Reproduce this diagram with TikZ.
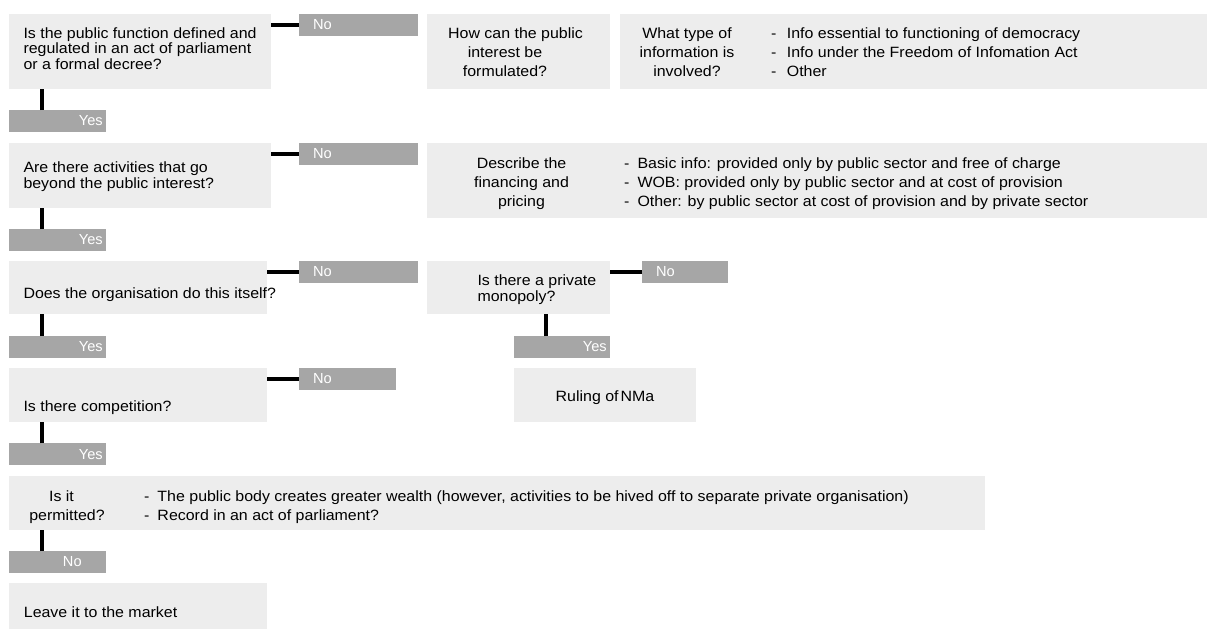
\documentclass[tikz,border=0pt]{standalone}
\usepackage{fontspec}
\setmainfont{Liberation Sans}
\newfontfamily\wfont{Liberation Sans}[FakeStretch=1.07]
\definecolor{boxgray}{RGB}{237,237,237}
\definecolor{taggray}{RGB}{166,166,166}
\tikzset{
  qbox/.style={fill=boxgray, draw=none, inner sep=0pt, outer sep=0pt, anchor=north west},
  tagbox/.style={fill=taggray, draw=none, inner sep=0pt, outer sep=0pt, anchor=north west,
    minimum height=21.7pt, text=white, font=\fontsize{14.6}{16}\selectfont},
  notag/.style={tagbox, text width=#1, align=left},
  yestag/.style={tagbox, text width=#1, align=right},
  qtxt/.style={font=\wfont\fontsize{14.9}{15.8}\selectfont, align=left, inner sep=0pt, anchor=base west},
  ctxt/.style={font=\wfont\fontsize{14.9}{19.2}\selectfont, align=center, inner sep=0pt, anchor=base},
  btxt/.style={font=\wfont\fontsize{14.9}{19.2}\selectfont, align=left, inner sep=0pt, anchor=base west},
  conn/.style={line width=3.8pt},
}
\begin{document}
\begin{tikzpicture}[x=1pt,y=-1pt]
\useasboundingbox (0,0) rectangle (1207,630);

% ---- row 1 (text nodes anchored at the baseline of their last line)
\node[qbox, minimum width=262pt, minimum height=75pt] (q1) at (9,14) {};
\node[qtxt, font=\wfont\fontsize{14.9}{15.5}\selectfont] (q1t) at (23.3,69) {Is the public function defined and\\regulated in an act of parliament\\or a formal decree?};
\node[notag=119pt] (no1) at (299,14) {\hspace*{14pt}No};
\node[yestag=97pt] (yes1) at (9,110) {Yes\hspace*{3.3pt}};
\node[qbox, minimum width=183pt, minimum height=75pt] (q2) at (427,14) {};
\node[ctxt] (q2t) at (505,76.5) {\hspace*{21pt}How can the public\\interest be\\formulated?};
\node[qbox, minimum width=587pt, minimum height=75pt] (q3) at (620,14) {};
\node[ctxt] (q3t) at (687,76.5) {What type of\\information is\\involved?};
\node[btxt] (q3b) at (771,76.5) {\makebox[15.7pt][l]{-}Info essential to functioning of democracy\\
  \makebox[15.7pt][l]{-}Info under the Freedom of Infomation Act\\
  \makebox[15.7pt][l]{-}Other};

% ---- row 2
\node[qbox, minimum width=262pt, minimum height=65pt] (r2) at (9,143) {};
\node[qtxt, font=\wfont\fontsize{14.9}{16}\selectfont] (r2t) at (23.3,188.5) {Are there activities that go\\beyond the public interest?};
\node[notag=119pt] (no2) at (299,143) {\hspace*{14pt}No};
\node[yestag=97pt] (yes2) at (9,229) {Yes\hspace*{3.3pt}};
\node[qbox, minimum width=780pt, minimum height=74.5pt] (desc) at (427,143) {};
\node[ctxt] (desct) at (521.5,206.4) {Describe the\\financing and\\pricing};
\node[btxt] (descb) at (624,206.4) {\makebox[13.3pt][l]{-}Basic info: provided only by public sector and free of charge\\
  \makebox[13.3pt][l]{-}WOB: provided only by public sector and at cost of provision\\
  \makebox[13.3pt][l]{-}Other: by public sector at cost of provision and by private sector};

% ---- row 3
\node[qbox, minimum width=258pt, minimum height=53.3pt] (r3) at (9,261) {};
\node[qtxt] (r3t) at (23.3,298) {Does the organisation do this itself?};
\node[notag=119pt] (no3) at (299,261) {\hspace*{14pt}No};
\node[yestag=97pt] (yes3) at (9,336) {Yes\hspace*{3.3pt}};
\node[qbox, minimum width=183pt, minimum height=53.3pt] (mono) at (427,261) {};
\node[qtxt, font=\wfont\fontsize{14.9}{16}\selectfont] (monot) at (477.3,301.5) {Is there a private\\monopoly?};
\node[notag=86pt] (monono) at (642,261) {\hspace*{14pt}No};
\node[yestag=96pt] (monoyes) at (514,336) {Yes\hspace*{3.3pt}};
\node[qbox, minimum width=182pt, minimum height=54pt] (rul) at (514,368) {};
\node[ctxt] (rult) at (605,401.5) {Ruling of\hspace{2pt}NMa};

% ---- row 4
\node[qbox, minimum width=258pt, minimum height=53.7pt] (r4) at (9,368) {};
\node[qtxt] (r4t) at (23.3,411.5) {Is there competition?};
\node[notag=97pt] (no4) at (299,368) {\hspace*{14pt}No};
\node[yestag=97pt] (yes4) at (9,443.3) {Yes\hspace*{3.3pt}};

% ---- row 5
\node[qbox, minimum width=976pt, minimum height=54pt] (perm) at (9,476) {};
\node[ctxt, font=\wfont\fontsize{14.9}{18.3}\selectfont] (permt) at (67,520) {Is it\hspace*{11pt}\\permitted?};
\node[btxt, font=\wfont\fontsize{14.9}{18.3}\selectfont] (permb) at (144,520) {\makebox[13.3pt][l]{-}The public body creates greater wealth (however, activities to be hived off to separate private organisation)\\
  \makebox[13.3pt][l]{-}Record in an act of parliament?};
\node[notag=97pt] (no5) at (9,551) {\hspace*{54pt}No};
\node[qbox, minimum width=258pt, minimum height=46pt] (leave) at (9,583.3) {};
\node[qtxt] (leavet) at (23.7,617.5) {Leave it to the market};

% ---- connectors
\draw[conn] (no1.west) -- (no1.west -| q1.east);
\draw[conn] ([xshift=33pt]yes1.north west) -- ([xshift=33pt]yes1.north west |- q1.south);
\draw[conn] (no2.west) -- (no2.west -| r2.east);
\draw[conn] ([xshift=33pt]yes2.north west) -- ([xshift=33pt]yes2.north west |- r2.south);
\draw[conn] (no3.west) -- (no3.west -| r3.east);
\draw[conn] ([xshift=33pt]yes3.north west) -- ([xshift=33pt]yes3.north west |- r3.south);
\draw[conn] (monono.west) -- (monono.west -| mono.east);
\draw[conn] ([xshift=32pt]monoyes.north west) -- ([xshift=32pt]monoyes.north west |- mono.south);
\draw[conn] (no4.west) -- (no4.west -| r4.east);
\draw[conn] ([xshift=33pt]yes4.north west) -- ([xshift=33pt]yes4.north west |- r4.south);
\draw[conn] ([xshift=33pt]no5.north west) -- ([xshift=33pt]no5.north west |- perm.south);
\end{tikzpicture}
\end{document}
